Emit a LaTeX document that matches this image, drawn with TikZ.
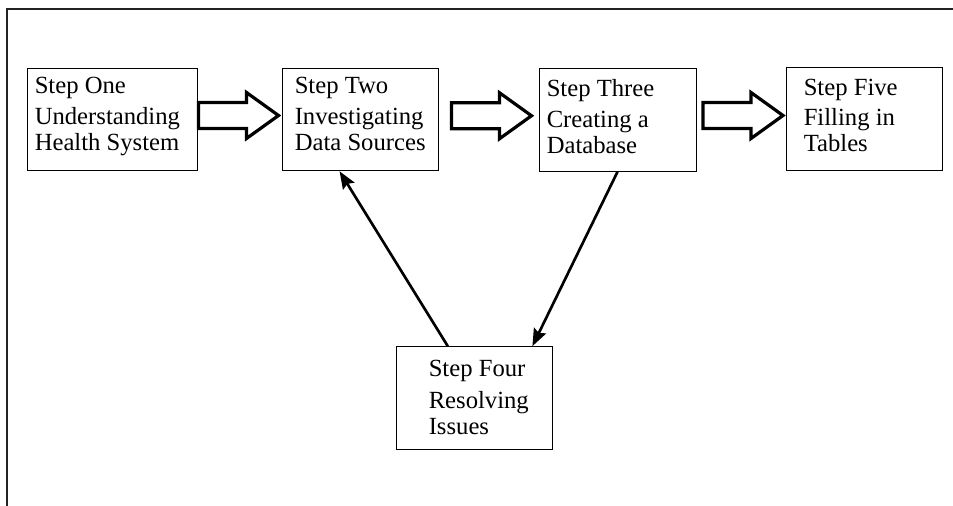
\documentclass[tikz,border=0pt]{standalone}
\usepackage{fontspec}
\setmainfont{Liberation Serif}
\usetikzlibrary{arrows.meta, calc}
\definecolor{framegray}{RGB}{35, 35, 35}
\tikzset{
    stepbox/.style={draw=black, line width=0.75pt, inner sep=0pt,
        minimum height=77pt},
    steptext/.style={anchor=north west, align=left, inner sep=0pt,
        font=\fontsize{18.5}{19.5}\selectfont},
    backarrow/.style={line width=2pt,
        -{Stealth[length=13pt, width=10pt, inset=2pt]}},
    fatarrow/.pic={
        \draw[line width=2.4pt, fill=white] (-40, -13) -- (8, -13)
            -- (8, -23) -- (40, 0) -- (8, 23) -- (8, 13) -- (-40, 13) -- cycle;
    },
}

\begin{document}
\begin{tikzpicture}[x=0.75pt, y=-0.75pt]
            \useasboundingbox (0, 0) rectangle (953, 506);
            \draw[framegray, line width=1.5pt] (7, 506) -- (7, 9) -- (953, 9);
            % the five steps
            \node[stepbox, minimum width=127.5pt] (s1) at (112, 119.5) {};
            \node[stepbox, minimum width=117pt] (s2) at (360, 119.5) {};
            \node[stepbox, minimum width=117.75pt] (s3) at (617.5, 120) {};
            \node[stepbox, minimum width=117pt] (s5) at (864, 119) {};
            \node[stepbox, minimum width=117pt] (s4) at (474, 398) {};
            \node[steptext] (t1) at ($(s1.north west)+(8, 9)$)
                {Step One\\[4pt]Understanding\\Health System};
            \node[steptext] (t2) at ($(s2.north west)+(13, 9)$)
                {Step Two\\[4pt]Investigating\\Data Sources};
            \node[steptext] (t3) at ($(s3.north west)+(8, 11)$)
                {Step Three\\[4pt]Creating a\\Database};
            \node[steptext] (t5) at ($(s5.north west)+(18, 12)$)
                {Step Five\\[3pt]Filling in\\Tables};
            \node[steptext] (t4) at ($(s4.north west)+(33, 14)$)
                {Step Four\\[4pt]Resolving\\Issues};
            % block arrows along the top row
            \pic at ($(s1.east)!0.5!(s2.west)+(-1, -4)$) {fatarrow};
            \pic at ($(s2.east)!0.5!(s3.west)+(3, -4)$) {fatarrow};
            \pic at ($(s3.east)!0.5!(s5.west)+(2, -4)$) {fatarrow};
            % loop through step four
            \draw[backarrow] (s3.south)
                -- ($(s4.north west)!0.872!(s4.north east)$);
            \draw[backarrow] ($(s4.north west)!0.333!(s4.north east)$)
                -- ($(s2.south west)!0.37!(s2.south east)$);
        \end{tikzpicture}
\end{document}
